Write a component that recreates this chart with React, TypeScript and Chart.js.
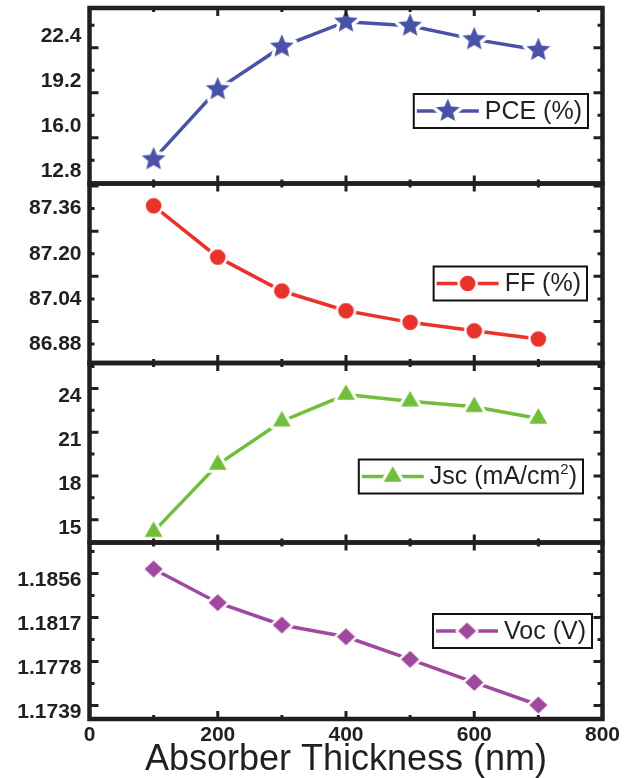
import React, { useEffect, useRef } from 'react';
import { Chart, registerables } from 'chart.js';

Chart.register(...registerables);

// ---------------- data ----------------
const thickness = [100, 200, 300, 400, 500, 600, 700];
const pce = [13.68, 18.66, 21.69, 23.47, 23.18, 22.21, 21.45];
const ff = [87.37, 87.188, 87.068, 86.998, 86.957, 86.927, 86.898];
const jsc = [14.75, 19.35, 22.32, 24.15, 23.69, 23.31, 22.51];
const voc = [1.18657, 1.18359, 1.18161, 1.18057, 1.17857, 1.17653, 1.17452];

const pceTicks = [12.8, 16.0, 19.2, 22.4];
const ffTicks = [86.88, 87.04, 87.2, 87.36];
const jscTicks = [15, 18, 21, 24];
const vocTicks = [1.1739, 1.1778, 1.1817, 1.1856];
const xTicks = [0, 200, 400, 600, 800];
const xMarks = [100, 200, 300, 400, 500, 600, 700];
const xTitle = 'Absorber Thickness (nm)';

// ---------------- style ----------------
const W = 633;
const H = 778;
const FONT = "'Liberation Sans', Arial, sans-serif";
const INK = '#231f20';
const PLOT_LEFT = 89.5;
const PLOT_RIGHT = 602.5;

type Shape = 'star' | 'circle' | 'triangle' | 'diamond';

interface PanelCfg {
  legend: string[]; // text parts: [main, superscript?, tail?]
  values: number[];
  ticks: number[];
  decimals: number;
  min: number;
  max: number;
  color: string;
  shape: Shape;
  size: number;
  halo: number;
  top: number;
  bottom: number;
  legendRight: number;
  legendY: number;
  tickPhase: number;
}

const panels: PanelCfg[] = [
  {
    legend: ['PCE (%)'], values: pce, ticks: pceTicks, decimals: 1,
    min: 11.961, max: 24.441, color: '#4a52a8', shape: 'star', size: 12.5, halo: 3.5,
    top: 8, bottom: 183.5, legendRight: 588, legendY: 111, tickPhase: -0.244,
  },
  {
    legend: ['FF (%)'], values: ff, ticks: ffTicks, decimals: 2,
    min: 86.813, max: 87.449, color: '#e8322a', shape: 'circle', size: 7.8, halo: 2.5,
    top: 183.5, bottom: 363, legendRight: 587, legendY: 283.5, tickPhase: -0.5,
  },
  {
    legend: ['Jsc (mA/cm', '2', ')'], values: jsc, ticks: jscTicks, decimals: 0,
    min: 14.006, max: 26.31, color: '#70be3c', shape: 'triangle', size: 10.3, halo: 3,
    top: 363, bottom: 542.5, legendRight: 583, legendY: 476.5, tickPhase: 0.19,
  },
  {
    legend: ['Voc (V)'], values: voc, ticks: vocTicks, decimals: 4,
    min: 1.17328, max: 1.188924, color: '#a0489e', shape: 'diamond', size: 9, halo: 2.5,
    top: 542.5, bottom: 719, legendRight: 592, legendY: 631, tickPhase: 0.148,
  },
];

// ---------------- markers ----------------
function tracePath(ctx: CanvasRenderingContext2D, shape: Shape, cx: number, cy: number, r: number) {
  ctx.beginPath();
  if (shape === 'circle') {
    ctx.arc(cx, cy, r, 0, Math.PI * 2);
  } else if (shape === 'star') {
    const inner = r * 0.45;
    for (let i = 0; i < 10; i++) {
      const rr = i % 2 === 0 ? r : inner;
      const a = -Math.PI / 2 + (i * Math.PI) / 5;
      const x = cx + Math.cos(a) * rr;
      const y = cy + Math.sin(a) * rr;
      if (i === 0) ctx.moveTo(x, y);
      else ctx.lineTo(x, y);
    }
    ctx.closePath();
  } else if (shape === 'triangle') {
    for (let i = 0; i < 3; i++) {
      const a = -Math.PI / 2 + (i * 2 * Math.PI) / 3;
      const x = cx + Math.cos(a) * r;
      const y = cy + Math.sin(a) * r;
      if (i === 0) ctx.moveTo(x, y);
      else ctx.lineTo(x, y);
    }
    ctx.closePath();
  } else {
    const hy = r * 0.95;
    ctx.moveTo(cx, cy - hy);
    ctx.lineTo(cx + r, cy);
    ctx.lineTo(cx, cy + hy);
    ctx.lineTo(cx - r, cy);
    ctx.closePath();
  }
}

function makeMarker(shape: Shape, color: string, r: number, halo: number): HTMLCanvasElement {
  const size = Math.ceil(2 * (r + halo) + 4);
  const c = document.createElement('canvas');
  c.width = size;
  c.height = size;
  const ctx = c.getContext('2d')!;
  const cx = size / 2;
  const cy = size / 2;
  tracePath(ctx, shape, cx, cy, r);
  ctx.lineJoin = 'round';
  ctx.strokeStyle = '#ffffff';
  ctx.lineWidth = halo * 2;
  ctx.stroke();
  ctx.fillStyle = color;
  ctx.fill();
  return c;
}

// ---------------- panel chart ----------------
function PanelChart({ cfg, index }: { cfg: PanelCfg; index: number }) {
  const ref = useRef<HTMLCanvasElement | null>(null);

  useEffect(() => {
    const canvas = ref.current;
    if (!canvas) return;
    const isLast = index === panels.length - 1;
    const marker = makeMarker(cfg.shape, cfg.color, cfg.size, cfg.halo);
    const step = cfg.ticks[1] - cfg.ticks[0];

    const decor = {
      id: 'decor' + index,
      afterDraw(chart: any) {
        const ctx: CanvasRenderingContext2D = chart.ctx;
        const { left, right, top, bottom } = chart.chartArea;
        const ys = chart.scales.y;
        const xs = chart.scales.x;
        ctx.save();
        ctx.strokeStyle = INK;
        ctx.lineCap = 'butt';
        // inward y tick marks (left and right)
        ctx.lineWidth = 3;
        for (let j = -20; j <= 20; j++) {
          const v = cfg.ticks[0] + (cfg.tickPhase + j * 0.5) * step;
          const py = ys.getPixelForValue(v);
          if (py < top + 2 || py > bottom - 2) continue;
          const len = j % 2 === 0 ? 9 : 5;
          ctx.beginPath();
          ctx.moveTo(left, py);
          ctx.lineTo(left + len, py);
          ctx.moveTo(right, py);
          ctx.lineTo(right - len, py);
          ctx.stroke();
        }
        // inward x tick marks (top and bottom)
        for (const v of xMarks) {
          const px = xs.getPixelForValue(v);
          const len = v % 200 === 0 ? 8 : 4;
          ctx.beginPath();
          ctx.moveTo(px, top);
          ctx.lineTo(px, top + len);
          ctx.moveTo(px, bottom);
          ctx.lineTo(px, bottom - len);
          ctx.stroke();
        }
        // frame
        ctx.lineWidth = 4.5;
        ctx.strokeRect(left, top, right - left, bottom - top);

        // legend
        const fontSize = 25;
        const supSize = 15;
        ctx.font = `${fontSize}px ${FONT}`;
        const mainW = ctx.measureText(cfg.legend[0]).width;
        ctx.font = `${supSize}px ${FONT}`;
        const supW = cfg.legend[1] ? ctx.measureText(cfg.legend[1]).width : 0;
        ctx.font = `${fontSize}px ${FONT}`;
        const tailW = cfg.legend[2] ? ctx.measureText(cfg.legend[2]).width : 0;
        const textW = mainW + supW + tailW;
        const padL = 3;
        const lineLen = 62;
        const gap = 6;
        const padR = 6;
        const boxW = padL + lineLen + gap + textW + padR;
        const boxH = 34;
        const bx = cfg.legendRight - boxW;
        const by = cfg.legendY - boxH / 2;
        ctx.fillStyle = '#ffffff';
        ctx.fillRect(bx, by, boxW, boxH);
        ctx.lineWidth = 2;
        ctx.strokeStyle = '#111111';
        ctx.strokeRect(bx, by, boxW, boxH);
        // sample line + marker
        ctx.strokeStyle = cfg.color;
        ctx.lineWidth = 3.5;
        ctx.beginPath();
        ctx.moveTo(bx + padL, cfg.legendY);
        ctx.lineTo(bx + padL + lineLen, cfg.legendY);
        ctx.stroke();
        ctx.drawImage(marker, bx + padL + lineLen / 2 - marker.width / 2, cfg.legendY - marker.height / 2);
        // text
        ctx.fillStyle = INK;
        ctx.textBaseline = 'middle';
        ctx.textAlign = 'left';
        let tx = bx + padL + lineLen + gap;
        ctx.font = `${fontSize}px ${FONT}`;
        ctx.fillText(cfg.legend[0], tx, cfg.legendY + 1);
        tx += mainW;
        if (cfg.legend[1]) {
          ctx.font = `${supSize}px ${FONT}`;
          ctx.fillText(cfg.legend[1], tx, cfg.legendY - 7);
          tx += supW;
        }
        if (cfg.legend[2]) {
          ctx.font = `${fontSize}px ${FONT}`;
          ctx.fillText(cfg.legend[2], tx, cfg.legendY + 1);
        }
        ctx.restore();
      },
    };

    const chart = new Chart(canvas, {
      type: 'line',
      data: {
        datasets: [
          {
            label: cfg.legend.join(''),
            data: thickness.map((x, i) => ({ x, y: cfg.values[i] })),
            borderColor: cfg.color,
            backgroundColor: cfg.color,
            borderWidth: 3.5,
            tension: 0,
            pointStyle: marker as any,
            pointRadius: cfg.size,
            pointHoverRadius: cfg.size,
            clip: false as any,
          },
        ],
      },
      options: {
        responsive: false,
        animation: false,
        devicePixelRatio: 1,
        events: [],
        layout: {
          autoPadding: false,
          padding: {
            left: 0,
            right: W - PLOT_RIGHT,
            top: cfg.top,
            bottom: isLast ? 0 : H - cfg.bottom,
          },
        },
        plugins: {
          legend: { display: false },
          tooltip: { enabled: false },
        },
        scales: {
          x: {
            type: 'linear',
            position: 'bottom',
            min: 0,
            max: 800,
            display: isLast,
            afterBuildTicks: (s: any) => {
              s.ticks = xTicks.map((v) => ({ value: v }));
            },
            afterFit: (s: any) => {
              if (isLast) s.height = H - cfg.bottom;
              else s.height = 0;
              s.paddingLeft = 0;
              s.paddingRight = 0;
            },
            grid: { display: false, drawTicks: false, tickLength: 0 },
            border: { display: false },
            ticks: {
              padding: 4,
              autoSkip: false,
              maxRotation: 0,
              color: INK,
              font: { family: FONT, size: 21, weight: 'bold' },
              callback: (v: any) => String(v),
            },
            title: {
              display: true,
              text: xTitle,
              color: INK,
              font: { family: FONT, size: 36, lineHeight: 1 },
              padding: { top: 0, bottom: 0 },
            },
          },
          y: {
            type: 'linear',
            position: 'left',
            min: cfg.min,
            max: cfg.max,
            afterBuildTicks: (s: any) => {
              s.ticks = cfg.ticks.map((v) => ({ value: v }));
            },
            afterFit: (s: any) => {
              s.width = PLOT_LEFT;
              s.paddingTop = 0;
              s.paddingBottom = 0;
            },
            grid: { display: false, drawTicks: false, tickLength: 0 },
            border: { display: false },
            ticks: {
              padding: 8,
              autoSkip: false,
              color: INK,
              font: { family: FONT, size: 21, weight: 'bold' },
              callback: (v: any) => Number(v).toFixed(cfg.decimals),
            },
          },
        },
      },
      plugins: [decor],
    } as any);

    return () => chart.destroy();
  }, [cfg, index]);

  return (
    <canvas
      ref={ref}
      width={W}
      height={H}
      style={{ position: 'absolute', left: 0, top: 0, width: W, height: H }}
    />
  );
}

export default function App() {
  return (
    <div style={{ position: 'absolute', left: 0, top: 0, width: W, height: H, background: '#ffffff', overflow: 'hidden' }}>
      {panels.map((p, i) => (
        <PanelChart key={i} cfg={p} index={i} />
      ))}
    </div>
  );
}
